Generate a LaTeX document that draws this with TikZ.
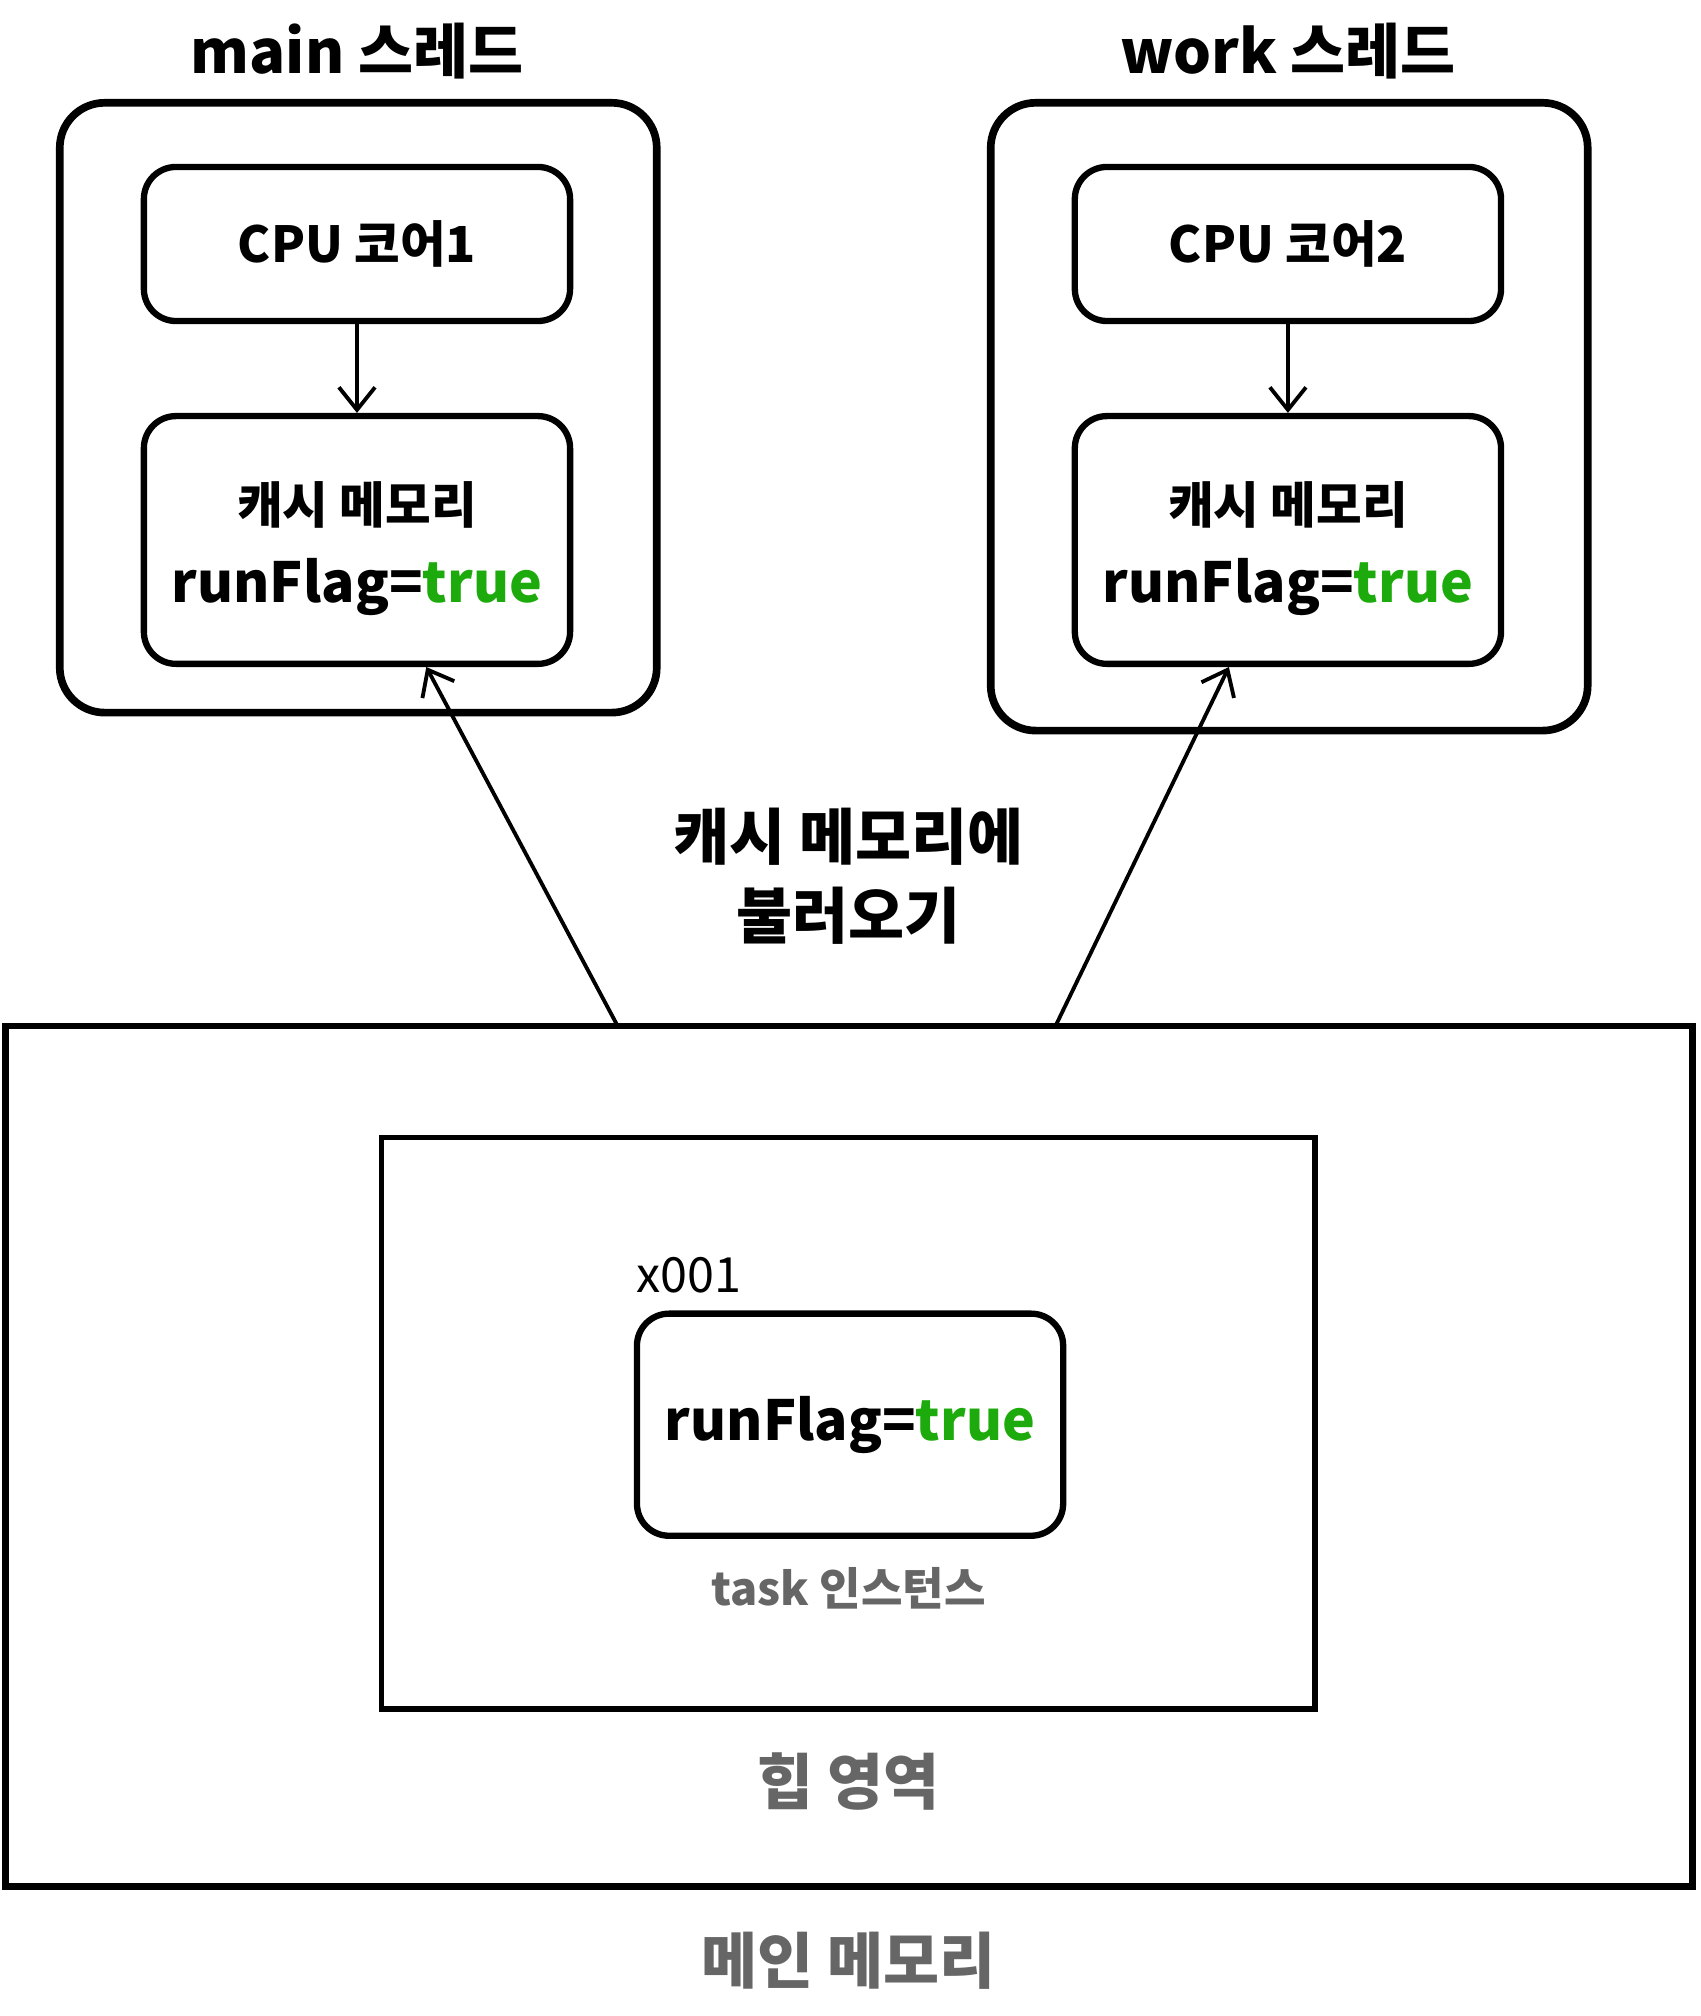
\documentclass[tikz,border=0pt]{standalone}
\usepackage{fontspec}
\setmainfont{Noto Sans CJK KR}
\usetikzlibrary{arrows.meta}
\definecolor{flaggreen}{RGB}{29,170,12}
\definecolor{labelgray}{RGB}{102,102,102}
\newcommand{\flagtext}{runFlag=\textcolor{flaggreen}{true}}

\begin{document}
\begin{tikzpicture}[x=0.02cm, y=-0.02cm,
    thread/.style={draw, line width=3.4pt, rounded corners=0.7cm, minimum width=9.3cm},
    core/.style={draw, line width=2.8pt, rounded corners=0.5cm, minimum width=6.64cm,
        minimum height=2.4cm, font=\bfseries\fontsize{22}{26}\selectfont},
    cache/.style={core, minimum height=3.86cm, align=center},
    area/.style={draw, line width=3pt},
    title/.style={font=\bfseries\fontsize{26.5}{30}\selectfont},
    graylabel/.style={text=labelgray, font=\bfseries\fontsize{27}{30}\selectfont},
    load/.style={-{Straight Barb[length=10pt,width=16pt]}, line width=1.7pt}
]
    % Fix the page size
    \useasboundingbox (0,0) rectangle (1324,1570);

    % Draw the main memory and the heap
    \node[area, minimum width=26.28cm, minimum height=13.4cm] (mem) at (661,1134) {};
    \node[area, line width=2.4pt, minimum width=14.54cm, minimum height=8.9cm] (heap) at (660.5,1108.5) {};
    \node[core, minimum height=3.46cm, font=\bfseries\fontsize{24.5}{28}\selectfont] (task) at (662,1109.5) {\flagtext};
    \node[anchor=south west, inner sep=0pt, font=\fontsize{21.5}{24}\selectfont] (addr) at ([xshift=0.04cm, yshift=0.26cm]task.north west) {x001};

    % Add gray labels
    \node[graylabel, font=\bfseries\fontsize{20}{24}\selectfont] (tasklbl) at (661,1237) {task 인스턴스};
    \node[graylabel] (heaplbl) at (661,1387) {힙 영역};
    \node[graylabel] (memlbl) at (661,1527) {메인 메모리};

    % Draw the main thread
    \node[title] (maint) at (278,40) {main 스레드};
    \node[thread, minimum height=9.5cm] (mainbox) at (279,317.5) {};
    \node[core] (cpu1) at (278,190) {CPU 코어1};
    \node[cache] (cache1) at (278,420.5) {{\fontsize{22}{26}\selectfont\rule{0pt}{26pt}캐시 메모리}\\[9pt]{\fontsize{24.5}{28}\selectfont\flagtext}};
    \draw[load] (cpu1) -- (cache1);

    % Draw the work thread
    \node[title] (workt) at (1003,40) {work 스레드};
    \node[thread, minimum height=9.78cm] (workbox) at (1004,324.5) {};
    \node[core] (cpu2) at (1003,190) {CPU 코어2};
    \node[cache] (cache2) at (1003,420.5) {{\fontsize{22}{26}\selectfont\rule{0pt}{26pt}캐시 메모리}\\[9pt]{\fontsize{24.5}{28}\selectfont\flagtext}};
    \draw[load] (cpu2) -- (cache2);

    % Load into the caches
    \coordinate (load1) at (481,799);
    \coordinate (load2) at (822,799);
    \draw[load] (load1) -- ([xshift=1.08cm]cache1.south);
    \draw[load] (load2) -- ([xshift=-0.92cm]cache2.south);
    \node[align=center, font=\bfseries\fontsize{27}{35}\selectfont] (loadlbl) at (661,682) {캐시 메모리에\\불러오기};
\end{tikzpicture}
\end{document}
